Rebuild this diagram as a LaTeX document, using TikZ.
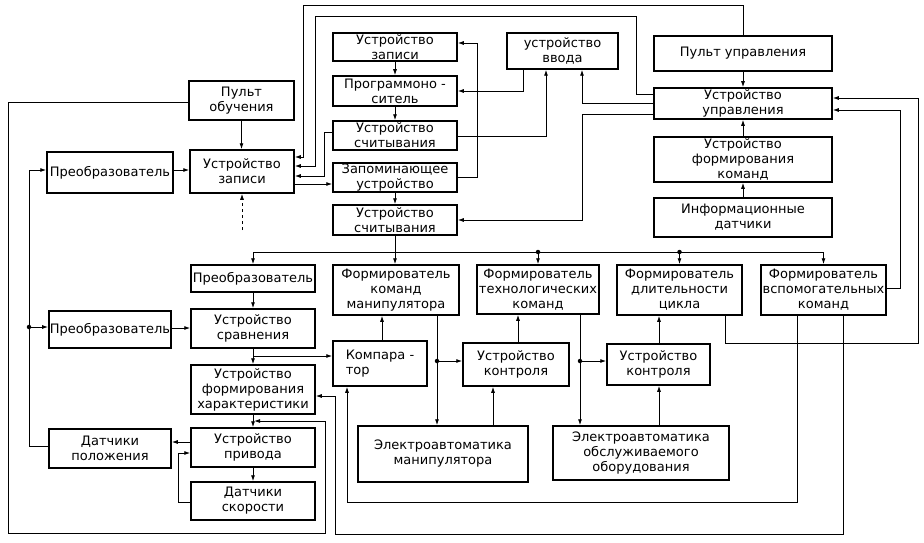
\documentclass[tikz,border=0pt]{standalone}
\usepackage{fontspec}
\setmainfont{DejaVu Sans}
\usetikzlibrary{arrows.meta}
\begin{document}
\begin{tikzpicture}[x=1pt,y=-1pt,
 box/.style={draw, line width=1.5pt, align=center, inner sep=1pt, font=\fontsize{13}{15}\selectfont},
 ln/.style={line width=0.9pt},
 arr/.style={ln, -{Latex[length=6pt,width=4pt]}},
 dot/.style={circle, fill, inner sep=0pt, minimum size=4.5pt}]
\useasboundingbox (0,0) rectangle (924,543);
% boxes
\node[box, minimum width=105pt, minimum height=39pt] (po) at (241.5,100.5) {Пульт\\обучения};
\node[box, minimum width=126pt, minimum height=41pt] (pr1) at (110,172.5) {Преобразователь};
\node[box, minimum width=104pt, minimum height=43pt] (uz1) at (242,171.5) {Устройство\\записи};
\node[box, minimum width=124pt, minimum height=28pt] (uz2) at (395,47) {Устройство\\записи};
\node[box, minimum width=124pt, minimum height=30pt] (pn) at (395,91) {Программоно -\\ситель};
\node[box, minimum width=124pt, minimum height=29pt] (us1) at (395,135.5) {Устройство\\считывания};
\node[box, minimum width=124pt, minimum height=29pt] (zu) at (395,177.5) {Запоминающее\\устройство};
\node[box, minimum width=124pt, minimum height=30pt] (us2) at (395,220) {Устройство\\считывания};
\node[box, minimum width=111pt, minimum height=36pt] (uv) at (562.5,51) {устройство\\ввода};
\node[box, minimum width=178pt, minimum height=35pt] (pu) at (743,53.5) {Пульт управления};
\node[box, minimum width=178pt, minimum height=31pt] (uu) at (743,103.5) {Устройство\\управления};
\node[box, minimum width=178pt, minimum height=45pt] (ufk) at (743,159.5) {Устройство\\формирования\\команд};
\node[box, minimum width=178pt, minimum height=39pt] (id) at (743,217.5) {Информационные\\датчики};
\node[box, minimum width=124pt, minimum height=27pt] (pr2) at (253,278.5) {Преобразователь};
\node[box, minimum width=126pt, minimum height=50pt] (fkm) at (396,290) {Формирователь\\команд\\манипулятора};
\node[box, minimum width=122pt, minimum height=49pt] (ftk) at (538,289.5) {Формирователь\\технологических\\команд};
\node[box, minimum width=125pt, minimum height=50pt] (fdc) at (679.5,290) {Формирователь\\длительности\\цикла};
\node[box, minimum width=125pt, minimum height=50pt] (fvk) at (823.5,290) {Формирователь\\вспомогательных\\команд};
\node[box, minimum width=122pt, minimum height=37pt] (pr3) at (110,329.5) {Преобразователь};
\node[box, minimum width=124pt, minimum height=39pt] (usr) at (253,328.5) {Устройство\\сравнения};
\node[box, minimum width=94pt, minimum height=45pt, align=left] (kmp) at (380,363.5) {Компара -\\тор};
\node[box, minimum width=106pt, minimum height=43pt] (uk1) at (516,364.5) {Устройство\\контроля};
\node[box, minimum width=103pt, minimum height=41pt] (uk2) at (658.5,364.5) {Устройство\\контроля};
\node[box, minimum width=124pt, minimum height=49pt] (ufh) at (253,389.5) {Устройство\\формирования\\характеристики};
\node[box, minimum width=122pt, minimum height=39pt] (dp) at (110,448.5) {Датчики\\положения};
\node[box, minimum width=124pt, minimum height=39pt] (upr) at (253,447.5) {Устройство\\привода};
\node[box, minimum width=124pt, minimum height=38pt] (ds) at (253,501) {Датчики\\скорости};
\node[box, minimum width=170pt, minimum height=56pt] (eam) at (443,454) {Электроавтоматика\\манипулятора};
\node[box, minimum width=176pt, minimum height=54pt] (eao) at (641,453) {Электроавтоматика\\обслуживаемого\\оборудования};
% dots and free ends
\coordinate (busy) at (0,252);
\node[dot] (b1) at (538,252) {};
\node[dot] (b2) at (679.5,252) {};
\node[dot] (j1) at (437,361) {};
\node[dot] (j2) at (580,361) {};
\node[dot] (j3) at (29,327) {};
\coordinate (fe) at (242,230);
% top-centre column
\draw[arr] (uz2) -- (pn);
\draw[arr] (pn) -- (us1);
\draw[arr] (zu) -- (us2);
\draw[arr] (zu.east |- 0,177) -- (477,177) |- (uz2.east |- 0,43);
\draw[arr] (uv.south -| 523,0) |- (pn.east |- 0,91);
\draw[arr] (us1.east |- 0,136) -| (uv.south -| 546,0);
\draw[arr] (uu.west |- 0,103) -| (uv.south -| 582,0);
\draw[arr] (uu.west |- 0,114) -- (582,114) |- (us2.east |- 0,220);
% top-left feeds into Устройство записи
\draw[arr] (pu.north) |- (303,5) |- (uz1.east |- 0,157);
\draw[arr] (uu.west |- 0,94) -- (636,94) |- (315,16) |- (uz1.east |- 0,166);
\draw[arr] (us1.west |- 0,132) -- (324,132) |- (uz1.east |- 0,176);
\draw[arr] (uz1.east |- 0,184) -- (zu.west |- 0,184);
\draw[arr] (po) -- (po |- uz1.north);
\draw[arr] (pr1.east |- 0,170) -- (uz1.west |- 0,170);
\draw[arr,dashed] (fe) -- (uz1.south -| fe);
% right column
\draw[arr] (pu) -- (uu);
\draw[arr] (ufk) -- (uu);
\draw[arr] (id) -- (ufk);
\draw[arr] (fvk.east |- 0,288) -- (900,288) |- (uu.east |- 0,110);
\draw[arr] (fdc.south -| 725,0) |- (918,343) |- (uu.east |- 0,98);
% bus
\draw[arr] (us2) -- (us2 |- fkm.north);
\draw[ln] (pr2 |- busy) -- (fvk |- busy);
\draw[arr] (pr2 |- busy) -- (pr2.north);
\draw[arr] (b1) -- (ftk.north);
\draw[arr] (b2) -- (fdc.north);
\draw[arr] (fvk |- busy) -- (fvk.north);
% left column
\draw[arr] (pr2) -- (usr);
\draw[arr] (usr) -- (ufh);
\draw[arr] (ufh) -- (upr);
\draw[arr] (upr) -- (ds);
\draw[arr] (pr3.east |- 0,328) -- (usr.west |- 0,328);
\draw[arr] (usr.south |- 0,356) -- (kmp.west |- 0,356);
\draw[arr] (upr.west |- 0,442) -- (dp.east |- 0,442);
\draw[arr] (ds.west |- 0,502) -- (178,502) |- (upr.west |- 0,453);
\draw[arr] (dp.west |- 0,446) -| (j3) |- (pr1.west |- 0,170);
\draw[arr] (j3) -- (pr3.west |- j3);
\draw[arr] (po.west |- 0,102) -- (8,102) -- (8,533) -- (325,533) -- (325,421) -- (254,421);
% middle row
\draw[arr] (kmp.north -| 382,0) -- (fkm.south -| 382,0);
\draw[arr] (fkm.south -| j1) -- (eam.north -| j1);
\draw[arr] (j1) -- (uk1.west |- j1);
\draw[arr] (eam.north -| 493,0) -- (uk1.south -| 493,0);
\draw[arr] (uk1.north -| 518,0) -- (ftk.south -| 518,0);
\draw[arr] (ftk.south -| j2) -- (eao.north -| j2);
\draw[arr] (j2) -- (uk2.west |- j2);
\draw[arr] (eao.north -| 659,0) -- (uk2.south -| 659,0);
\draw[arr] (uk2.north -| 659,0) -- (fdc.south -| 659,0);
% bottom returns
\draw[arr] (fvk.south -| 797,0) |- (347,502) -- (kmp.south -| 347,0);
\draw[arr] (fvk.south -| 843,0) |- (335,534) |- (ufh.east |- 0,396);
\end{tikzpicture}
\end{document}
